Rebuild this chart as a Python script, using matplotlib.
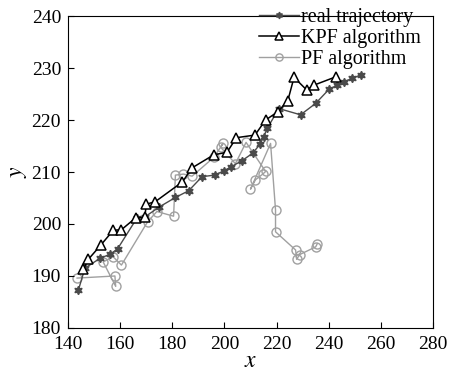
import matplotlib
matplotlib.use("Agg")
import matplotlib.pyplot as plt

plt.rcParams['font.family'] = ['Liberation Serif', 'DejaVu Serif']
plt.rcParams['mathtext.fontset'] = 'stix'

# real trajectory
real_x = [144.0, 146.5, 152.3, 156.2, 159.0, 166.4, 169.6, 175.1, 181.2, 186.3,
          191.4, 196.2, 199.7, 202.6, 206.8, 210.8, 213.6, 215.1, 216.4, 220.9,
          229.2, 235.0, 240.1, 243.3, 245.9, 249.1, 252.3]
real_y = [187.3, 191.5, 193.4, 194.2, 195.2, 201.1, 201.4, 203.3, 205.1, 206.4,
          209.1, 209.4, 210.2, 211.0, 212.2, 213.6, 215.3, 216.8, 218.4, 222.2,
          221.0, 223.2, 225.9, 226.7, 227.4, 228.0, 228.7]

# KPF algorithm
kpf_x = [145.9, 147.8, 152.5, 157.4, 160.5, 166.0, 169.5, 170.0, 173.5, 183.9,
         187.6, 195.9, 201.0, 204.6, 211.7, 215.8, 220.5, 224.3, 226.7, 231.5,
         234.3, 242.7]
kpf_y = [191.3, 193.2, 195.9, 198.8, 198.9, 201.2, 201.3, 203.8, 204.3, 208.1,
         210.8, 213.3, 213.8, 216.6, 217.1, 220.0, 221.6, 223.7, 228.2, 225.8,
         226.7, 228.3]

# PF algorithm
pf_x = [143.5, 158.0, 158.3, 153.5, 157.3, 160.5, 170.5, 174.1, 180.5, 181.2,
        184.3, 187.6, 195.9, 199.5, 198.5, 204.2, 208.3, 215.8, 214.7, 211.9,
        210.0, 217.7, 219.6, 219.6, 227.3, 227.7, 228.8, 235.0, 235.6]
pf_y = [189.6, 190.0, 188.0, 192.7, 193.7, 192.1, 200.4, 202.4, 201.5, 209.4,
        209.6, 209.2, 212.8, 215.5, 214.8, 211.6, 215.7, 210.1, 209.6, 208.5,
        206.7, 215.5, 202.7, 198.5, 195.0, 193.2, 194.1, 195.6, 196.2]

fig = plt.figure(figsize=(4.49, 3.76), dpi=100)
ax = fig.add_axes([0.1514, 0.1277, 0.813, 0.8297])

ax.plot(real_x, real_y, color='#4a4a4a', lw=1.0, marker=(6, 1, 0), ms=6,
        mfc='#4a4a4a', mec='#4a4a4a', label='real trajectory', zorder=2)
ax.plot(kpf_x, kpf_y, color='black', lw=1.1, marker='^', ms=6.5,
        mfc='white', mec='black', mew=1.1, label='KPF algorithm', zorder=3)
ax.plot(pf_x, pf_y, color='#a0a0a0', lw=1.0, marker='o', ms=6.5,
        mfc='none', mec='#a0a0a0', mew=1.0, label='PF algorithm', zorder=1)

ax.set_xlim(140, 280)
ax.set_ylim(180, 240)
ax.set_xticks(range(140, 281, 20))
ax.set_yticks(range(180, 241, 10))
ax.tick_params(direction='in', labelsize=14, top=False, right=False, length=4)
ax.tick_params(axis='x', pad=6)
ax.tick_params(axis='y', pad=5)
ax.set_xlabel('$x$', fontsize=17, labelpad=-2)
ax.set_ylabel('$y$', fontsize=17, labelpad=2)

ax.legend(loc='upper right', bbox_to_anchor=(1.0, 1.065), frameon=False,
          fontsize=14.5, handlelength=2.0, handletextpad=0.1, labelspacing=0.1,
          borderaxespad=0.2, markerscale=0.8)

fig.savefig('out.png', dpi=100)
